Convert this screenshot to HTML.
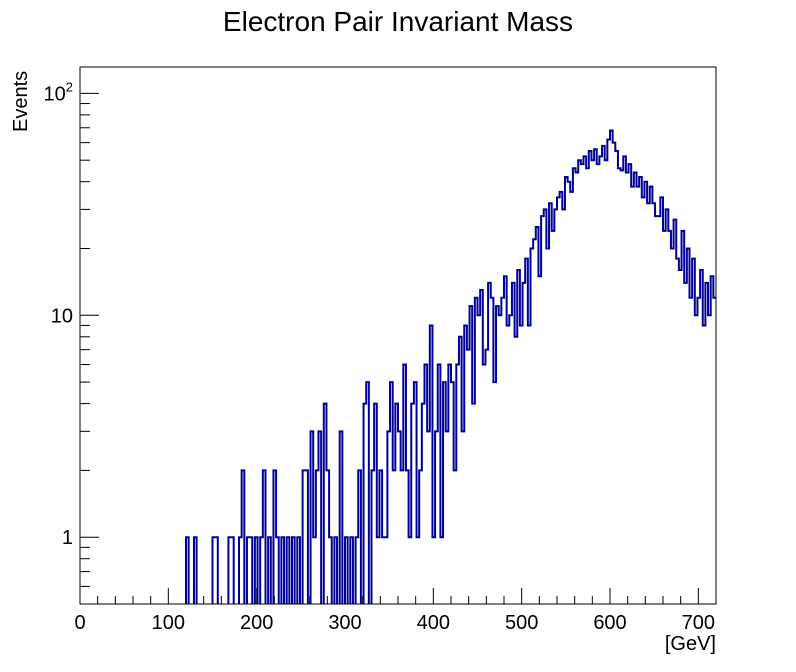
<!DOCTYPE html>
<html><head><meta charset="utf-8"><style>
html,body{margin:0;padding:0;background:#fff;}
svg{display:block;font-family:"Liberation Sans",sans-serif;}
</style></head><body>
<svg id="chart" width="796" height="672" viewBox="0 0 796 672" xmlns="http://www.w3.org/2000/svg">
<defs><clipPath id="fc"><rect x="80" y="67" width="636" height="537"/></clipPath></defs>
<text x="398" y="31" font-size="28" text-anchor="middle">Electron Pair Invariant Mass</text>
<g id="axes"></g>
<path id="hist" clip-path="url(#fc)" fill="none" stroke="#000099" stroke-width="2"/>
<rect x="80" y="67" width="636" height="537" fill="none" stroke="#000" stroke-width="1"/>
<text transform="translate(27,132) rotate(-90)" font-size="20">Events</text>
<text x="716" y="650" font-size="20" text-anchor="end">[GeV]</text>
</svg>
<script>
const binWidth = 3;
const xTicks = [0,100,200,300,400,500,600,700];
const yTicks = [1,10,100];
const yTickLabels = ["1","10","10²"];
const counts = [
0,0,0,0,0,0,0,0,0,0, 0,0,0,0,0,0,0,0,0,0, 0,0,0,0,0,0,0,0,0,0, 0,0,0,0,0,0,0,0,0,0,
1,0,0,1,0,0,0,0,0,0, 1,1,0,0,0,0,1,1,0,0, 1,2,0,1,1,0,1,0,1,2, 0,1,0,2,1,0,1,0,1,0,
1,0,1,0,2,2,0,3,1,2, 3,0,4,2,1,0,1,0,3,0, 1,0,1,0,1,2,0,4,5,0, 2,4,1,2,1,1,3,5,2,4,
3,2,6,2,1,4,5,1,2,4, 6,3,9,1,3,6,1,5,3,6, 5,2,6,8,3,9,7,11,4,12, 10,13,6,7,14,12,5,11,10,12,
15,9,10,14,8,16,9,14,18,9, 20,22,25,15,28,30,20,32,24,30, 34,36,30,42,40,36,46,44,50,48,
52,46,55,50,56,48,52,58,50,62, 68,60,55,46,45,52,44,48,38,44, 38,42,34,40,32,38,32,28,28,34,
24,30,24,20,27,18,16,24,14,20, 12,18,10,12,16,9,14,10,15,12
];
const X0=80, X1=716, XMAX=720, YB=604, YT=67;
const LMIN=Math.log10(0.5), LMAX=Math.log10(131.5);
function xs(v){return X0+(v/XMAX)*(X1-X0);}
function ys(v){ if(v<=0) return YB+20; return YB-(Math.log10(v)-LMIN)/(LMAX-LMIN)*(YB-YT);}
const NS="http://www.w3.org/2000/svg";
const ax=document.getElementById('axes');
function line(x1,y1,x2,y2,name){
  const l=document.createElementNS(NS,'line');
  l.setAttribute('x1',x1);l.setAttribute('y1',y1);l.setAttribute('x2',x2);l.setAttribute('y2',y2);
  l.setAttribute('stroke','#000');l.setAttribute('stroke-width','1');
  
  
  ax.appendChild(l);
}
function text(x,y,s,anchor,name){
  const t=document.createElementNS(NS,'text');
  t.setAttribute('x',x);t.setAttribute('y',y);t.setAttribute('font-size','20');t.setAttribute('text-anchor',anchor);
  t.textContent=s;
  
  
  ax.appendChild(t);
}
for(let v=0; v<=XMAX; v+=20){
  const major = v%100===0;
  line(xs(v),YB,xs(v),YB-(major?16:8),'x-tick');
}
xTicks.forEach(v=>text(xs(v),629,String(v),'middle','x-tick-label'));
for(let d=-1; d<=2; d++){
  for(let m=1; m<=9; m++){
    const v=m*Math.pow(10,d);
    if(v<0.5||v>131.5) continue;
    const major = m===1;
    line(X0,ys(v),X0+(major?19:10),ys(v),'y-tick');
  }
}
yTicks.forEach((v,i)=>{
  if(i===2){
    const t=document.createElementNS(NS,'text');
    t.setAttribute('x',73);t.setAttribute('y',ys(v)+7);t.setAttribute('font-size','20');t.setAttribute('text-anchor','end');
    t.innerHTML='10<tspan dy="-9" font-size="13">2</tspan>';
    
    
    ax.appendChild(t);
  } else text(73,ys(v)+7,yTickLabels[i],'end','y-tick-label');
});
let d='M'+xs(0)+','+ys(counts[0]);
counts.forEach((c,i)=>{
  const xa=xs(i*binWidth), xb=xs((i+1)*binWidth);
  d+=' L'+xa+','+ys(c)+' L'+xb+','+ys(c);
});
document.getElementById('hist').setAttribute('d',d);
</script>
</body></html>
